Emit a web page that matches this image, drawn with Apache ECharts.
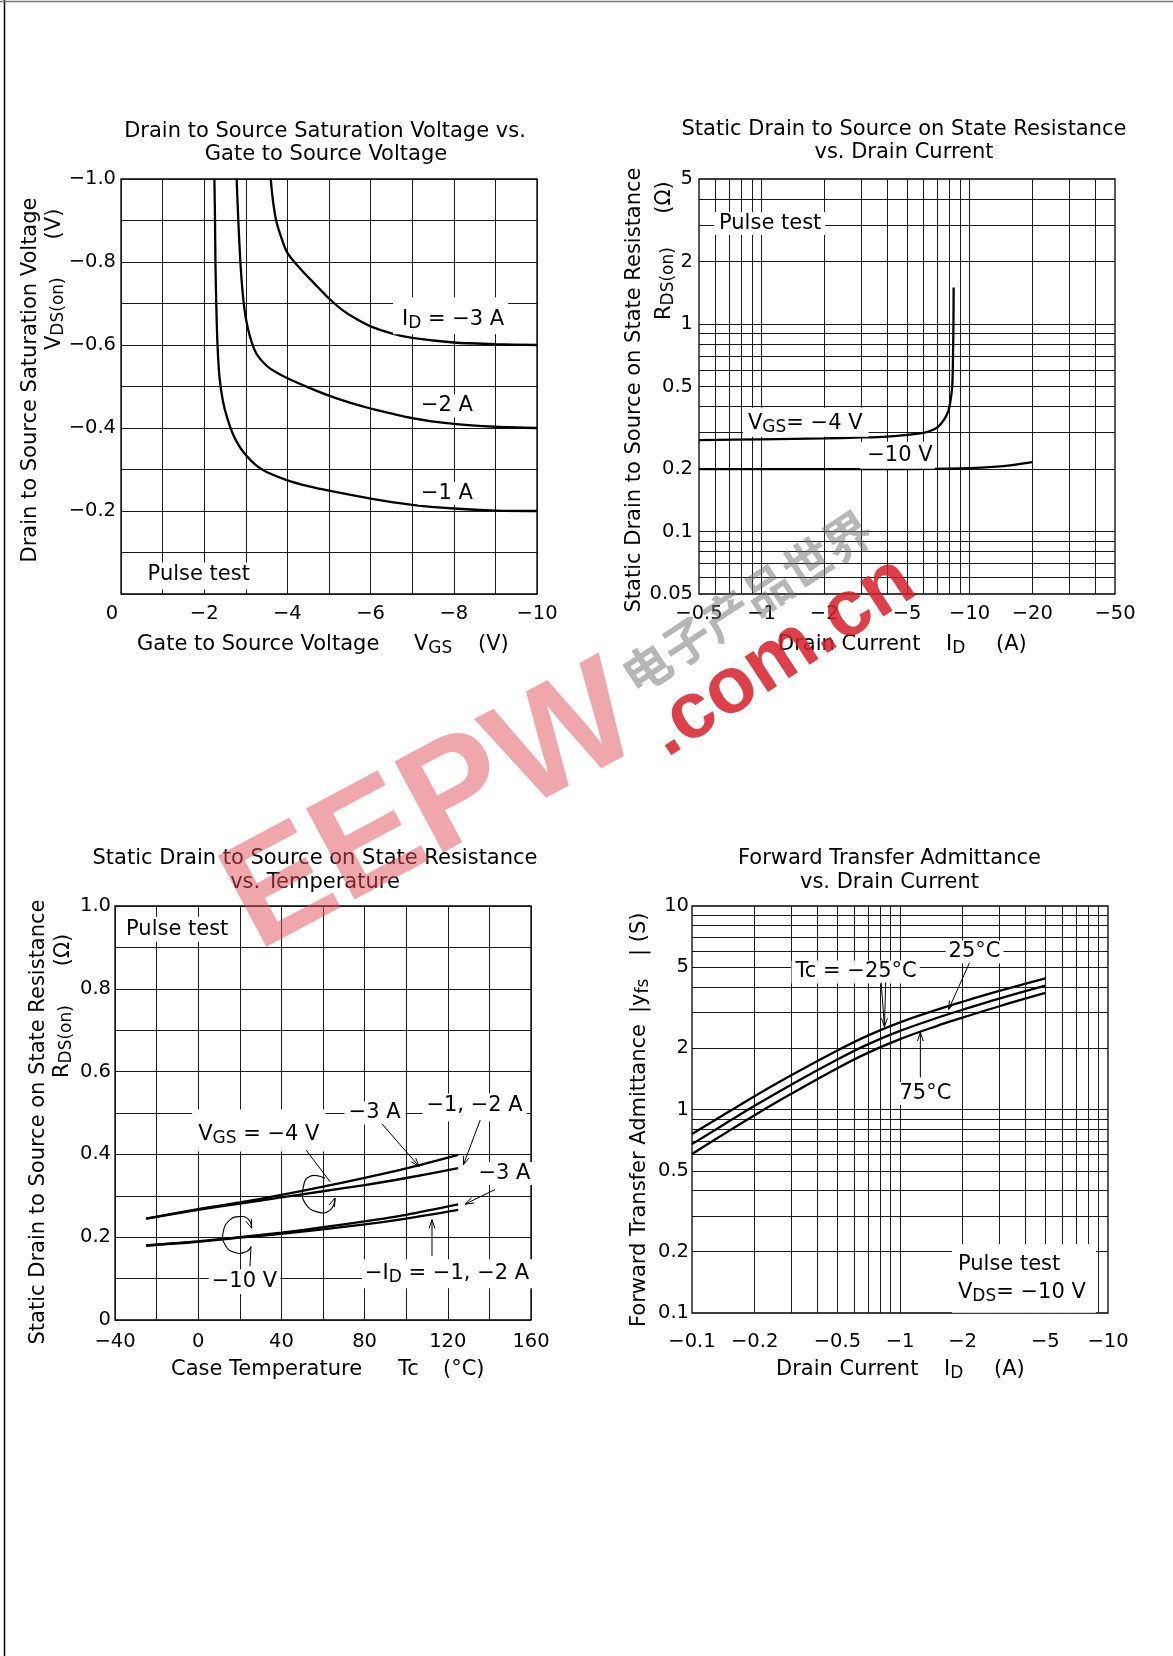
<!DOCTYPE html>
<html><head><meta charset="utf-8">
<script src="https://cdn.jsdelivr.net/npm/echarts@6/dist/echarts.min.js"></script>
<style>html,body{margin:0;padding:0;background:#fff}#c{width:1173px;height:1656px}</style>
</head><body><div id="c"></div>
<script>
const FONT = 'DejaVu Sans';
const MINUS = '\u2212';

// ---------- Chart 1: VDS(on) vs VGS  (VGS [V], VDS(on) [V]) ----------
const c1_id1A = [[-2.245,-1.0],[-2.26,-0.9],[-2.27,-0.8],[-2.29,-0.7],[-2.32,-0.6],[-2.37,-0.52],[-2.45,-0.465],[-2.55,-0.425],[-2.7,-0.383],[-2.85,-0.355],[-3.0,-0.335],[-3.25,-0.31],[-3.5,-0.294],[-4,-0.274],[-4.5,-0.26],[-5,-0.249],[-6,-0.23],[-7,-0.215],[-8,-0.206],[-9,-0.201],[-10,-0.2]];
const c1_id2A = [[-2.78,-1.0],[-2.82,-0.9],[-2.87,-0.8],[-2.93,-0.72],[-3.0,-0.665],[-3.1,-0.62],[-3.25,-0.58],[-3.5,-0.55],[-3.75,-0.533],[-4.0,-0.52],[-4.5,-0.498],[-5,-0.478],[-5.5,-0.461],[-6,-0.447],[-7,-0.424],[-8,-0.41],[-9,-0.403],[-10,-0.4]];
const c1_id3A = [[-3.6,-1.0],[-3.65,-0.95],[-3.73,-0.9],[-3.85,-0.86],[-4.0,-0.822],[-4.3,-0.785],[-4.65,-0.748],[-5.0,-0.712],[-5.3,-0.686],[-5.65,-0.663],[-6,-0.645],[-6.5,-0.628],[-7,-0.617],[-8,-0.606],[-9,-0.602],[-10,-0.6]];

// ---------- Chart 2: RDS(on) vs |ID|  (|ID| [A], RDS(on) [ohm]) ----------
const c2_xLabels = [0.5,1,2,5,10,20,50];
const c2_yLabels = [0.05,0.1,0.2,0.5,1,2,5];
const c2_xGrid = [0.6,0.7,0.8,0.9,1,2,3,4,5,6,7,8,9,10,20,30,40];
const c2_yGrid = [0.06,0.07,0.08,0.09,0.1,0.2,0.3,0.4,0.5,0.6,0.7,0.8,0.9,1,2,3,4];
const c2_vgs4 = [[0.5,0.276],[1,0.278],[2,0.281],[3,0.284],[4,0.287],[5,0.292],[6,0.299],[6.5,0.306],[7,0.318],[7.5,0.343],[7.9,0.38],[8.1,0.43],[8.25,0.5],[8.32,0.7],[8.36,1.0],[8.38,1.5]];
const c2_vgs10 = [[0.5,0.2],[1,0.2],[2,0.2],[5,0.2],[8,0.201],[10,0.202],[13,0.205],[16,0.209],[20,0.216]];

// ---------- Chart 3: RDS(on) vs Tc  (Tc [degC], RDS(on) [ohm]) ----------
const c3_vgs4_id3 = [[-25,0.245],[0,0.268],[20,0.284],[40,0.302],[60,0.322],[80,0.343],[100,0.366],[125,0.399]];
const c3_vgs4_id12 = [[-25,0.245],[0,0.266],[20,0.281],[40,0.296],[60,0.311],[80,0.326],[100,0.343],[125,0.367]];
const c3_vgs10_id3 = [[-25,0.18],[0,0.19],[20,0.2],[40,0.211],[60,0.224],[80,0.238],[100,0.254],[125,0.279]];
const c3_vgs10_id12 = [[-25,0.18],[0,0.189],[20,0.199],[40,0.208],[60,0.219],[80,0.231],[100,0.245],[125,0.266]];

// ---------- Chart 4: |yfs| vs |ID|  (|ID| [A], |yfs| [S]) ----------
const c4_xLabels = [0.1,0.2,0.5,1,2,5,10];
const c4_yLabels = [0.1,0.2,0.5,1,2,5,10];
const c4_grid = [0.2,0.3,0.4,0.5,0.6,0.7,0.8,0.9,1,2,3,4,5,6,7,8,9];
const c4_tcM25 = [[0.1,0.757],[0.15,0.974],[0.2,1.163],[0.3,1.472],[0.5,1.949],[0.7,2.306],[1,2.679],[1.5,3.088],[2,3.385],[3,3.823],[5,4.41]];
const c4_tc25 = [[0.1,0.676],[0.15,0.872],[0.2,1.043],[0.3,1.324],[0.5,1.761],[0.7,2.089],[1,2.433],[1.5,2.815],[2,3.091],[3,3.507],[5,4.06]];
const c4_tc75 = [[0.1,0.605],[0.15,0.783],[0.2,0.938],[0.3,1.194],[0.5,1.595],[0.7,1.897],[1,2.216],[1.5,2.571],[2,2.828],[3,3.217],[5,3.738]];

// ---------- layout ----------
const grids = [
  {left:121, top:179, width:416, height:415},
  {left:699, top:179, width:416, height:415},
  {left:115, top:906, width:416, height:414},
  {left:692, top:906, width:416, height:407}
];
const LBL = 19.5;
const lab = (extra) => Object.assign({color:'#000', fontFamily:FONT, fontSize:LBL}, extra);
const num = v => String(parseFloat(Number(v).toPrecision(6)));
const neg = v => MINUS + num(Math.abs(v));
const hidden = {show:false};
const split = {show:true, lineStyle:{color:'#1a1a1a', width:1}};

const xAxes = [
  {gridIndex:0, type:'value', min:-10, max:0, interval:1, inverse:true, axisLine:hidden, axisTick:hidden, splitLine:split,
    axisLabel:lab({margin:10, formatter:v=>{const r=Math.round(v); if(r===0) return '{z|0}'; return r%2? '' : neg(r);},
      rich:{z:{fontFamily:FONT, fontSize:LBL, color:'#000', padding:[0,18,0,0]}}})},
  {gridIndex:1, type:'log', logBase:10, min:0.5, max:50, axisLine:hidden, axisTick:hidden, splitLine:hidden,
    axisLabel:lab({margin:10, customValues:c2_xLabels, formatter:v=>neg(v)})},
  {gridIndex:2, type:'value', min:-40, max:160, interval:20, axisLine:hidden, axisTick:hidden, splitLine:split,
    axisLabel:lab({margin:12, formatter:v=>{const r=Math.round(v); if((r+40)%40) return ''; return r<0? neg(r) : String(r);}})},
  {gridIndex:3, type:'log', logBase:10, min:0.1, max:10, axisLine:hidden, axisTick:hidden, splitLine:hidden,
    axisLabel:lab({margin:19, customValues:c4_xLabels, formatter:v=>neg(v)})}
];
const yAxes = [
  {gridIndex:0, type:'value', min:-1, max:0, interval:0.1, inverse:true, axisLine:hidden, axisTick:hidden, splitLine:split,
    axisLabel:lab({margin:5, formatter:v=>{const k=Math.round(-v*10); if(k===0||k%2) return ''; return MINUS+(k/10).toFixed(1);}})},
  {gridIndex:1, type:'log', logBase:10, min:0.05, max:5, axisLine:hidden, axisTick:hidden, splitLine:hidden,
    axisLabel:lab({margin:6, customValues:c2_yLabels, formatter:v=>num(v)})},
  {gridIndex:2, type:'value', min:0, max:1, interval:0.1, axisLine:hidden, axisTick:hidden, splitLine:split,
    axisLabel:lab({margin:4, formatter:v=>{const k=Math.round(v*10); if(k%2) return ''; return k===0?'0':(k/10).toFixed(1);}})},
  {gridIndex:3, type:'log', logBase:10, min:0.1, max:10, axisLine:hidden, axisTick:hidden, splitLine:hidden,
    axisLabel:lab({margin:3, customValues:c4_yLabels, formatter:v=>num(v)})}
];

function curve(g, data, sm){
  return {type:'line', xAxisIndex:g, yAxisIndex:g, data, symbol:'none', showSymbol:false, smooth:sm||0.3, silent:true, z:3,
    animation:false, lineStyle:{color:'#000', width:2.3}};
}
function logGrid(g, first, xs, ys){
  return {type:'line', xAxisIndex:g, yAxisIndex:g, data:[first], symbol:'none', showSymbol:false, silent:true, z:1,
    animation:false, lineStyle:{opacity:0},
    markLine:{silent:true, z:1, animation:false, symbol:['none','none'], label:{show:false}, emphasis:{disabled:true},
      lineStyle:{color:'#1a1a1a', width:1, type:'solid'},
      data:[...xs.map(v=>({xAxis:v})), ...ys.map(v=>({yAxis:v}))]}};
}

const chart = echarts.init(document.getElementById('c'), null, {renderer:'canvas', width:1173, height:1656});
chart.setOption({
  animation:false,
  backgroundColor:'#fff',
  grid: grids.map(g=>Object.assign({show:true, borderColor:'#000', borderWidth:1.3, backgroundColor:'transparent'}, g)),
  xAxis: xAxes,
  yAxis: yAxes,
  series: [
    curve(0, c1_id1A), curve(0, c1_id2A), curve(0, c1_id3A),
    logGrid(1, [0.5,0.05], c2_xGrid, c2_yGrid), curve(1, c2_vgs4), curve(1, c2_vgs10),
    curve(2, c3_vgs4_id3), curve(2, c3_vgs4_id12), curve(2, c3_vgs10_id3), curve(2, c3_vgs10_id12),
    logGrid(3, [0.1,0.1], c4_grid, c4_grid), curve(3, c4_tcM25, 0.4), curve(3, c4_tc25, 0.4), curve(3, c4_tc75, 0.4)
  ]
});

// ---------- annotations ----------
const P = (g, x, y) => chart.convertToPixel({gridIndex:g}, [x, y]);
function rich(size){
  return {s:{fontFamily:FONT, fontSize:Math.round(size*0.8), fill:'#000', verticalAlign:'top', padding:[Math.round(size*0.38),0,0,0]}};
}
function txt(x, y, text, o){
  o = o || {};
  const size = o.size || 21;
  const align = o.align || 'left';
  const pad = o.pad || null;
  const style = {text, fill:'#000', fontFamily:FONT, fontSize:size, align, verticalAlign:'middle', rich:rich(size)};
  let ex = x, ey = y;
  if (pad) { style.backgroundColor = '#fff'; style.padding = pad; ex = align==='left' ? x - pad[3] : x; ey = y - (pad[0]-pad[2])/2; }
  return {type:'text', x:ex, y:ey, rotation:o.rot||0, z:o.z||100, silent:true, style};
}
function seg(a, b, w){
  return {type:'line', shape:{x1:a[0], y1:a[1], x2:b[0], y2:b[1]}, style:{stroke:'#000', lineWidth:w||1}, z:100, silent:true};
}
function head(a, b){
  const ang = Math.atan2(b[1]-a[1], b[0]-a[0]), L = 9, s = 0.33;
  return {type:'polyline', shape:{points:[[b[0]-L*Math.cos(ang-s), b[1]-L*Math.sin(ang-s)], [b[0],b[1]], [b[0]-L*Math.cos(ang+s), b[1]-L*Math.sin(ang+s)]]},
    style:{stroke:'#000', fill:null, lineWidth:1}, z:100, silent:true};
}
function arrow(g, x1, y1, x2, y2){ const a=P(g,x1,y1), b=P(g,x2,y2); return [seg(a,b), head(a,b)]; }
function loop(g, x, y, offs, headAtStart){
  const c = P(g, x, y);
  const pts = offs.map(o=>[c[0]+o[0], c[1]+o[1]]);
  const els = [{type:'polyline', shape:{points:pts, smooth:0.5}, style:{stroke:'#000', fill:null, lineWidth:1.1}, z:100, silent:true}];
  if (headAtStart) els.push(head(pts[1], pts[0])); else els.push(head(pts[pts.length-2], pts[pts.length-1]));
  return els;
}
function at(g, x, y, text, o){ const p = P(g, x, y); return txt(p[0], p[1], text, o); }

const G = [];
// page frame
G.push({type:'line', shape:{x1:4.5, y1:0, x2:4.5, y2:1656}, style:{stroke:'#000', lineWidth:1.5}, z:100, silent:true});
G.push({type:'line', shape:{x1:0, y1:1.5, x2:1173, y2:1.5}, style:{stroke:'#777', lineWidth:1.5}, z:100, silent:true});

// titles
[['Drain to Source Saturation Voltage vs.',325,132],['Gate to Source Voltage',326,155],
 ['Static Drain to Source on State Resistance',904,130],['vs. Drain Current',904,153],
 ['Static Drain to Source on State Resistance',315,859],['vs. Temperature',315,882.5],
 ['Forward Transfer Admittance',889.5,859],['vs. Drain Current',889.5,882.5]
].forEach(t=>G.push(txt(t[1], t[2], t[0], {align:'center'})));

// x axis titles
G.push(txt(137,645,'Gate to Source Voltage'), txt(414,645,'V{s|GS}'), txt(478,645,'(V)'));
G.push(txt(778,645,'Drain Current'), txt(946,645,'I{s|D}'), txt(996,645,'(A)'));
G.push(txt(171,1370,'Case Temperature'), txt(398,1370,'Tc'), txt(443,1370,'(°C)'));
G.push(txt(776,1370,'Drain Current'), txt(944,1370,'I{s|D}'), txt(994,1370,'(A)'));

// y axis titles (rotated)
const R90 = Math.PI/2;
G.push(txt(31,380,'Drain to Source Saturation Voltage',{align:'center',rot:R90}));
G.push(txt(55,350,'V{s|DS(on)}',{rot:R90}), txt(55,224,'(V)',{align:'center',rot:R90}));
G.push(txt(635,390,'Static Drain to Source on State Resistance',{align:'center',rot:R90}));
G.push(txt(665,320,'R{s|DS(on)}',{rot:R90}), txt(665,197.5,'(Ω)',{align:'center',rot:R90}));
G.push(txt(39,1122,'Static Drain to Source on State Resistance',{align:'center',rot:R90}));
G.push(txt(63,1078,'R{s|DS(on)}',{rot:R90}), txt(64,950,'(Ω)',{align:'center',rot:R90}));
G.push(txt(640,1327,'Forward Transfer Admittance',{rot:R90}), txt(640,1013,'|y{s|fs}',{rot:R90}), txt(640,956,'| (S)',{rot:R90}));

// chart 1 labels
G.push(at(0,-6.755,-0.661,'I{s|D} = '+MINUS+'3 A',{pad:[10,4,2,9]}));
G.push(at(0,-7.21,-0.453,MINUS+'2 A',{pad:[1,3,1,3]}));
G.push(at(0,-7.21,-0.243,MINUS+'1 A',{pad:[1,3,1,3]}));
G.push(at(0,-0.64,-0.046,'Pulse test',{pad:[2,4,4,4]}));

// chart 2 labels
G.push(at(1,0.624,3.05,'Pulse test',{pad:[1,4,1,5]}));
G.push(at(1,0.86,0.333,'V{s|GS}= '+MINUS+'4 V',{pad:[3,6,1,5]}));
G.push(at(1,3.22,0.233,MINUS+'10 V',{pad:[3,2,3,7]}));

// chart 3 labels and arrows
G.push(at(2,-34.7,0.944,'Pulse test',{pad:[2,4,2,4]}));
G.push(at(2,0,0.447,'V{s|GS} = '+MINUS+'4 V',{pad:[13,6,4,6]}));
G.push(at(2,72.3,0.5,MINUS+'3 A',{pad:[1,5,1,4]}));
G.push(at(2,109.7,0.517,MINUS+'1, '+MINUS+'2 A',{pad:[2,4,5,4]}));
G.push(at(2,134.7,0.354,MINUS+'3 A',{pad:[1,3,1,3]}));
G.push(at(2,80.2,0.112,MINUS+'I{s|D} = '+MINUS+'1, '+MINUS+'2 A',{pad:[2,3,2,3]}));
G.push(at(2,6.5,0.0925,MINUS+'10 V',{pad:[2,3,2,3]}));
G.push(...arrow(2,88.3,0.474,106.2,0.371));
G.push(...arrow(2,135.6,0.483,127.5,0.375));
G.push(...arrow(2,142.7,0.315,128.4,0.280));
G.push(...arrow(2,112.4,0.155,112.4,0.242));
G.push(seg(P(2,51.8,0.411), P(2,63.4,0.334)));
G.push(...loop(2,58.6,0.304,[[5,-16],[-10,-18],[-17,-6],[-15,9],[-2,18],[10,16],[15,4]],false));
G.push(...loop(2,18.5,0.204,[[15,-7.4],[11.6,-16.4],[3.3,-19],[-6.7,-15.7],[-13.4,-4],[-11.7,9.3],[-1.7,17],[10,16],[14.3,11]],true));
(function(){ const c=P(2,18.5,0.204); G.push(seg([c[0]+14.3,c[1]+11],[c[0]+13.3,c[1]+31])); })();

// chart 4 labels and arrows
G.push(at(3,0.3146,4.74,'Tc = '+MINUS+'25°C',{pad:[1,3,1,4]}));
G.push(at(3,1.713,5.94,'25°C',{pad:[1,3,1,3]}));
G.push(at(3,0.994,1.2,'75°C',{pad:[1,2,1,2]}));
(function(){
  const a=P(3,1.90,0.195), b=P(3,1.90,0.105);
  G.push({type:'rect', shape:{x:a[0]-6, y:a[1]-10, width:144, height:b[1]-a[1]+14}, style:{fill:'#fff'}, z:99, silent:true});
})();
G.push(at(3,1.90,0.173,'Pulse test'));
G.push(at(3,1.90,0.1259,'V{s|DS}= '+MINUS+'10 V'));
(function(){
  const a1=P(3,0.8118,4.21), a2=P(3,0.8536,4.21), b=P(3,0.8418,2.55);
  G.push(seg(a1,b), seg(a2,b), head([b[0],a1[1]], b));
})();
G.push(...arrow(3,2.156,5.25,1.713,3.105));
G.push(...arrow(3,1.253,1.44,1.253,2.39));

// watermark
G.push({type:'text', x:433, y:811, rotation:0.49, z:200, silent:true,
  style:{text:'EEPW', font:'bold 150px "Liberation Sans"', fill:'rgba(225,80,90,0.5)', align:'center', verticalAlign:'middle'}});
G.push({type:'text', x:781, y:657, rotation:0.58, z:200, silent:true,
  style:{text:'.com.cn', font:'bold 80px "Liberation Sans"', fill:'rgba(215,30,40,0.85)', align:'center', verticalAlign:'middle'}});
G.push({type:'text', x:747, y:602, rotation:0.58, z:200, silent:true,
  style:{text:'电子产品世界', font:'bold 48px "Noto Sans CJK SC"', fill:'rgba(110,110,110,0.5)', align:'center', verticalAlign:'middle'}});

chart.setOption({graphic:{elements:G}});
</script></body></html>
